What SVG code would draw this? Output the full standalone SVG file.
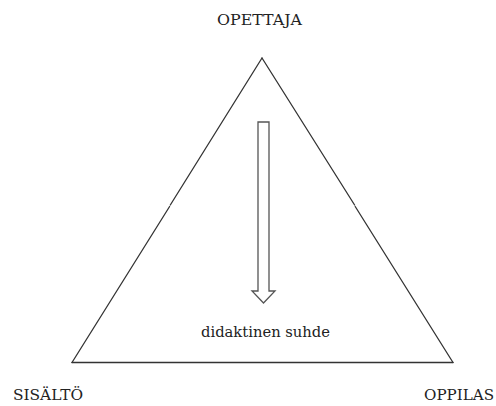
<svg xmlns="http://www.w3.org/2000/svg" width="496" height="406" viewBox="0 0 496 406">
  <style>
    text { font-family: 'DejaVu Serif', 'Liberation Serif', serif; font-size: 14px; fill: #222; }
    .edge { fill: none; stroke: #333; stroke-width: 1.3; stroke-linecap: round; }
    .arrow { fill: #fff; stroke: #555; stroke-width: 1.3; stroke-linejoin: miter; }
  </style>
  <rect width="496" height="406" fill="#fff"/>

  <!-- triangle sides -->
  <g id="connectors">
    <path class="edge" d="M262,58 L170.3,205 M169.6,206.5 L72,362.5"/>
    <path class="edge" d="M262,58 L354.6,205 M355.2,206.5 L453,362.5"/>
    <path class="edge" d="M72,362.5 L453,362.5"/>
  </g>

  <!-- didactic relation arrow -->
  <g id="relation-arrow">
    <path class="arrow" d="M258,122 L269,122 L269,291 L275,291 L263.5,303 L252,291 L258,291 Z"/>
  </g>

  <g id="node-opettaja">
    <text x="217" y="25" textLength="85" lengthAdjust="spacingAndGlyphs">OPETTAJA</text>
  </g>
  <g id="node-sisalto">
    <text x="13" y="400" textLength="70" lengthAdjust="spacingAndGlyphs">SISÄLTÖ</text>
  </g>
  <g id="node-oppilas">
    <text x="424" y="400" textLength="70" lengthAdjust="spacingAndGlyphs">OPPILAS</text>
  </g>
  <g id="label-relation">
    <text x="201" y="337" font-size="15" textLength="129" lengthAdjust="spacingAndGlyphs">didaktinen suhde</text>
  </g>
</svg>
